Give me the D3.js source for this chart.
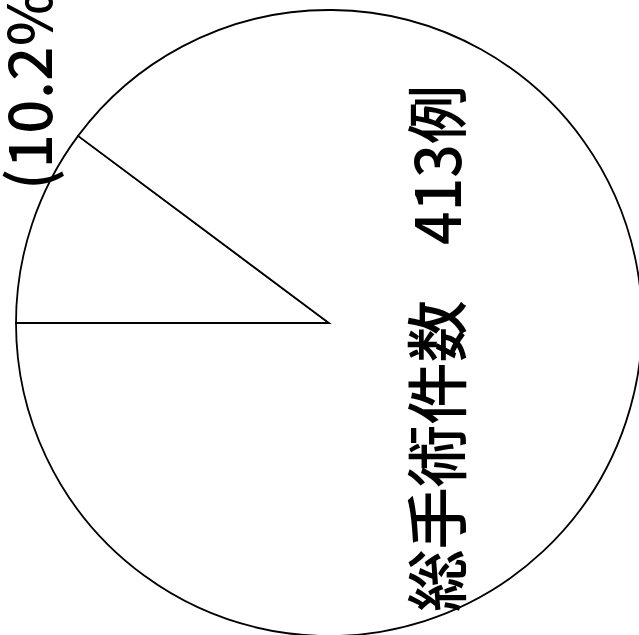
<!DOCTYPE html>
<html>
<head>
<meta charset="utf-8">
<script src="https://cdn.jsdelivr.net/npm/d3@7"></script>
<style>
  html, body { margin: 0; padding: 0; background: #fff; overflow: hidden; }
  svg { display: block; }
</style>
</head>
<body>
<div id="chart"></div>
<script>
// Slice data (share of total surgeries)
const sliceNames = ['small', 'main'];
const slicePercents = [10.2, 89.8];
const smallLabel = '(10.2%)';
const mainTitle = '総手術件数';
const mainCount = '413例';

const W = 639, H = 635;
const cx = 329, cy = 323, radius = 313;

const svg = d3.select('#chart').append('svg')
  .attr('width', W)
  .attr('height', H);

const g = svg.append('g')
  .attr('transform', `translate(${cx},${cy})`);

// Small slice starts pointing left (270deg) and runs clockwise
const pie = d3.pie()
  .sort(null)
  .value(d => d)
  .startAngle(Math.PI * 1.5)
  .endAngle(Math.PI * 3.5);

const arc = d3.arc()
  .innerRadius(0)
  .outerRadius(radius);

const arcs = pie(slicePercents);

g.selectAll('path.slice')
  .data(arcs)
  .enter().append('path')
  .attr('class', 'slice')
  .attr('d', arc)
  .attr('fill', '#fff')
  .attr('stroke', '#000')
  .attr('stroke-width', 1.8)
  .attr('stroke-linejoin', 'miter');

// Main label, rotated to read bottom-to-top
const mainText = svg.append('text')
  .attr('transform', `translate(434,612) rotate(-90)`)
  .attr('text-anchor', 'start')
  .attr('dominant-baseline', 'central')
  .style('font-family', '"Noto Sans CJK JP", sans-serif')
  .style('font-size', '62px')
  .style('font-weight', 500)
  .style('fill', '#000');

mainText.append('tspan')
  .attr('textLength', 312)
  .attr('lengthAdjust', 'spacingAndGlyphs')
  .text(mainTitle);

mainText.append('tspan')
  .attr('x', 367)
  .attr('textLength', 160)
  .attr('lengthAdjust', 'spacingAndGlyphs')
  .text(mainCount);

// Percentage label of the small slice (runs past the top edge as in the source)
svg.append('text')
  .attr('transform', `translate(25,190) rotate(-90)`)
  .attr('text-anchor', 'start')
  .attr('dominant-baseline', 'central')
  .attr('textLength', 222)
  .attr('lengthAdjust', 'spacing')
  .style('font-family', '"Noto Sans CJK JP", sans-serif')
  .style('font-size', '60px')
  .style('font-weight', 500)
  .style('fill', '#000')
  .text(smallLabel);
</script>
</body>
</html>
